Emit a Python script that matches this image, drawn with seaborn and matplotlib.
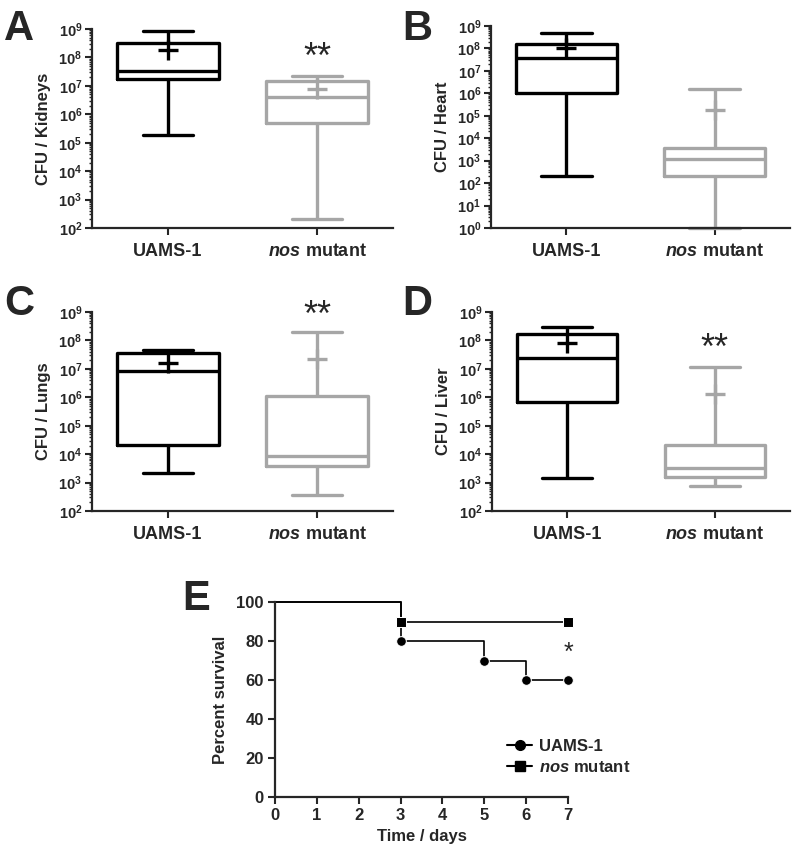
import numpy as np
import pandas as pd
import matplotlib
matplotlib.use("Agg")
import matplotlib.pyplot as plt
import seaborn as sns
from matplotlib.lines import Line2D
from matplotlib.ticker import FixedLocator, FixedFormatter, LogLocator, NullFormatter

# ---------------- data ----------------
strains = ["UAMS-1", "nos mutant"]
strain_labels = ["UAMS-1", "$nos$ mutant"]

# five-number summaries per group: [min, q1, median, q3, max]
kidneys_uams = [1.9e5, 1.8e7, 3.2e7, 3.2e8, 8.3e8]
kidneys_nos = [2.0e2, 5.1e5, 3.9e6, 1.5e7, 2.2e7]
kidneys_mean = [1.9e8, 7.6e6]

heart_uams = [2.0e2, 1.05e6, 3.6e7, 1.5e8, 5.0e8]
heart_nos = [1.0, 2.1e2, 1.2e3, 3.7e3, 1.5e6]
heart_mean = [1.0e8, 1.8e5]

lungs_uams = [2.2e3, 2.1e4, 8.5e6, 3.5e7, 4.7e7]
lungs_nos = [3.6e2, 3.9e3, 8.9e3, 1.1e6, 2.0e8]
lungs_mean = [1.6e7, 2.2e7]

liver_uams = [1.4e3, 6.6e5, 2.4e7, 1.7e8, 2.9e8]
liver_nos = [7.8e2, 1.6e3, 3.2e3, 2.1e4, 1.15e7]
liver_mean = [8.1e7, 1.3e6]

# survival (Kaplan-Meier steps)
days_uams = [0, 3, 5, 6, 7]
surv_uams = [100, 80, 70, 60, 60]
days_nos = [0, 3, 7]
surv_nos = [100, 90, 90]

# ---------------- style ----------------
sns.set_style("ticks")
plt.rcParams["font.family"] = ["Liberation Sans", "DejaVu Sans"]
plt.rcParams["font.weight"] = "bold"
plt.rcParams["axes.labelweight"] = "bold"
plt.rcParams["mathtext.fontset"] = "custom"
plt.rcParams["mathtext.it"] = "Liberation Sans:italic:bold"
plt.rcParams["mathtext.bf"] = "Liberation Sans:bold"
plt.rcParams["mathtext.rm"] = "Liberation Sans:bold"

BLACK = "#000000"
GRAY = "#a6a6a6"
palette = {strains[0]: BLACK, strains[1]: GRAY}

fig = plt.figure(figsize=(7.97, 8.48), dpi=100)
W, H = 797, 848


def axes_px(left, top, right, bottom):
    return fig.add_axes([left / W, 1 - bottom / H, (right - left) / W, (bottom - top) / H])


def box_panel(ax, uams, nos, means, ylabel, ymin_exp):
    df = pd.DataFrame({"strain": [strains[0]] * len(uams) + [strains[1]] * len(nos),
                       "cfu": uams + nos})
    sns.boxplot(data=df, x="strain", y="cfu", hue="strain", order=strains,
                palette=palette, fill=False, width=0.68, whis=np.inf,
                linewidth=2.4, log_scale=True, legend=False, ax=ax)
    dm = pd.DataFrame({"strain": strains, "mean": means})
    sns.pointplot(data=dm, x="strain", y="mean", hue="strain", order=strains,
                  palette=palette, errorbar=None, linestyle="none", marker="+",
                  markersize=14, markeredgewidth=2.4, legend=False, ax=ax)
    for ln in ax.lines:
        ln.set_clip_on(False)
    ax.set_yscale("log")
    ax.set_ylim(10.0 ** ymin_exp, 1e9)
    ax.set_xlim(-0.51, 1.51)
    exps = list(range(ymin_exp, 10))
    ax.yaxis.set_major_locator(FixedLocator([10.0 ** e for e in exps]))
    ax.yaxis.set_major_formatter(FixedFormatter([r"$\mathbf{10^{%d}}$" % e for e in exps]))
    ax.yaxis.set_minor_locator(LogLocator(base=10, subs=np.arange(2, 10), numticks=20))
    ax.yaxis.set_minor_formatter(NullFormatter())
    ax.set_xticks([0, 1])
    ax.set_xticklabels(strain_labels, fontsize=13, fontweight="bold")
    ax.set_xlabel("")
    ax.set_ylabel(ylabel, fontsize=12, fontweight="bold", labelpad=5)
    ax.tick_params(axis="y", which="major", length=5, width=1.5, labelsize=10.5, pad=2)
    ax.tick_params(axis="y", which="minor", length=2.5, width=1.0)
    ax.tick_params(axis="x", which="major", length=5, width=1.5, pad=6)
    for s in ["left", "bottom"]:
        ax.spines[s].set_linewidth(1.6)
    sns.despine(ax=ax)


STAR_KW = dict(ha="center", va="center", fontsize=26, fontweight="normal")

axA = axes_px(92, 29, 393, 228)
box_panel(axA, kidneys_uams, kidneys_nos, kidneys_mean, "CFU / Kidneys", 2)
axA.text(1, 10 ** 7.95, "**", **STAR_KW)

axB = axes_px(491, 26, 790, 228)
box_panel(axB, heart_uams, heart_nos, heart_mean, "CFU / Heart", 0)

axC = axes_px(92, 312, 393, 511)
box_panel(axC, lungs_uams, lungs_nos, lungs_mean, "CFU / Lungs", 2)
axC.text(1, 10 ** 8.85, "**", **STAR_KW)

axD = axes_px(492, 312, 790, 511)
box_panel(axD, liver_uams, liver_nos, liver_mean, "CFU / Liver", 2)
axD.text(1, 10 ** 7.7, "**", **STAR_KW)

# ---------------- survival panel ----------------
axE = axes_px(275, 602, 568, 797)
sns.lineplot(x=days_uams, y=surv_uams, drawstyle="steps-post", color=BLACK,
             linewidth=1.2, marker="o", markersize=7, markevery=list(range(1, len(days_uams))),
             ax=axE, clip_on=False, legend=False)
sns.lineplot(x=days_nos, y=surv_nos, drawstyle="steps-post", color=BLACK,
             linewidth=1.2, marker="s", markersize=7, markevery=list(range(1, len(days_nos))),
             ax=axE, clip_on=False, legend=False)
axE.set_xlim(0, 7)
axE.set_ylim(0, 100)
axE.set_xticks(range(0, 8))
axE.set_yticks(range(0, 101, 20))
axE.tick_params(axis="both", length=5, width=1.5, labelsize=12, pad=3)
axE.set_xlabel("Time / days", fontsize=12, fontweight="bold", labelpad=4)
axE.set_ylabel("Percent survival", fontsize=12, fontweight="bold", labelpad=6)
for s in ["left", "bottom"]:
    axE.spines[s].set_linewidth(1.6)
sns.despine(ax=axE)
axE.text(7, 74, "*", ha="center", va="center", fontsize=18, fontweight="normal")
handles = [Line2D([], [], color=BLACK, linewidth=1.5, marker="o", markersize=7),
           Line2D([], [], color=BLACK, linewidth=1.5, marker="s", markersize=7)]
leg = axE.legend(handles, strain_labels, loc="upper left", bbox_to_anchor=(0.77, 0.33),
                 frameon=False, handlelength=1.5, handletextpad=0.4, labelspacing=0.35,
                 prop={"weight": "bold", "size": 12}, borderaxespad=0)

# ---------------- panel letters ----------------
for letter, x, y in [("A", 4, 40), ("B", 402, 40), ("C", 4, 315), ("D", 402, 315), ("E", 182, 610)]:
    fig.text(x / W, 1 - y / H, letter, fontsize=30, fontweight="bold", va="baseline", ha="left")

fig.savefig("out.png", dpi=100)
